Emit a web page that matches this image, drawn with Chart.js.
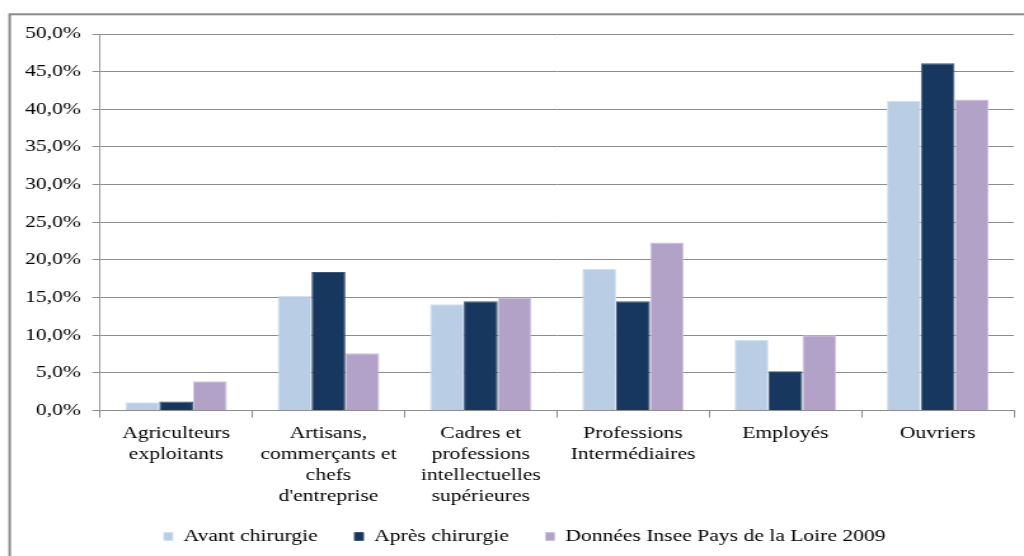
<!DOCTYPE html>
<html>
<head>
<meta charset="utf-8">
<script src="https://cdn.jsdelivr.net/npm/chart.js@4"></script>
<style>
  html, body { margin: 0; padding: 0; background: #fff; overflow: hidden; }
  /* the original picture is stretched horizontally, so the canvas is too */
  #myChart { display: block; transform: scaleX(1.2705); transform-origin: 0 0; }
</style>
</head>
<body>
<canvas id="myChart" width="806" height="556"></canvas>
<script>
const categories = [
  ["Agriculteurs", "exploitants"],
  ["Artisans,", "commerçants et", "chefs", "d'entreprise"],
  ["Cadres et", "professions", "intellectuelles", "supérieures"],
  ["Professions", "Intermédiaires"],
  ["Employés"],
  ["Ouvriers"],
];
const seriesNames = ["Avant chirurgie", "Après chirurgie", "Données Insee Pays de la Loire 2009"];
const avant = [1.1, 15.2, 14.1, 18.8, 9.4, 41.1];
const apres = [1.2, 18.4, 14.5, 14.5, 5.2, 46.1];
const insee = [3.9, 7.6, 15.0, 22.3, 10.0, 41.3];
const yTicks = [0, 5, 10, 15, 20, 25, 30, 35, 40, 45, 50];

const serif = "'Liberation Serif', 'Times New Roman', serif";

const frame = {
  id: "frame",
  beforeDraw(chart) {
    const ctx = chart.ctx;
    ctx.save();
    ctx.strokeStyle = "#8a8a8a";
    ctx.lineWidth = 2;
    ctx.strokeRect(7.6, 14.3, 900, 600);
    ctx.restore();
  },
};

// small nudges: legend sits a bit right of centre, long x labels need room
const nudge = {
  id: "nudge",
  afterLayout(chart) {
    chart.legend.left += 9;
    chart.legend.right += 9;
    chart.scales.x.bottom += 25;
  },
};

function pct(v) {
  return v.toFixed(1).replace(".", ",") + "%";
}

const ctx = document.getElementById("myChart");
// eslint-disable-next-line no-undef
new Chart(ctx, {
  type: "bar",
  data: {
    labels: categories,
    datasets: [
      { label: seriesNames[0], data: avant, backgroundColor: "#b9cde5", borderColor: "#d3dfee", borderWidth: 1 },
      { label: seriesNames[1], data: apres, backgroundColor: "#17375e", borderColor: "#3d5577", borderWidth: 1 },
      { label: seriesNames[2], data: insee, backgroundColor: "#b3a2c7", borderColor: "#cfc3dd", borderWidth: 1 },
    ],
  },
  options: {
    responsive: false,
    devicePixelRatio: 1,
    animation: false,
    categoryPercentage: 0.667,
    barPercentage: 1.0,
    layout: {
      padding: { left: 10, right: 8, top: 34, bottom: 1 },
    },
    plugins: {
      tooltip: { enabled: false },
      legend: {
        position: "bottom",
        labels: {
          boxWidth: 7,
          boxHeight: 8,
          padding: 29,
          color: "#000",
          font: { family: serif, size: 17 },
        },
      },
    },
    scales: {
      x: {
        afterFit(scale) {
          scale.height = 88.5;
        },
        grid: {
          display: true,
          drawOnChartArea: false,
          drawTicks: true,
          tickLength: 7,
          color: "#8c8c8c",
        },
        border: { display: true, color: "#8c8c8c" },
        ticks: {
          padding: 5,
          color: "#000",
          maxRotation: 0,
          autoSkip: false,
          font: { family: serif, size: 17, lineHeight: 1.25 },
        },
      },
      y: {
        min: 0,
        max: 50,
        afterFit(scale) {
          scale.width = 68.7;
        },
        afterBuildTicks(scale) {
          scale.ticks = yTicks.map((v) => ({ value: v }));
        },
        grid: {
          color: "#8c8c8c",
          tickLength: 6,
        },
        border: { display: true, color: "#9c9c9c" },
        ticks: {
          padding: 9,
          color: "#000",
          font: { family: serif, size: 17 },
          callback: (v) => pct(v),
        },
      },
    },
  },
  plugins: [frame, nudge],
});
</script>
</body>
</html>
